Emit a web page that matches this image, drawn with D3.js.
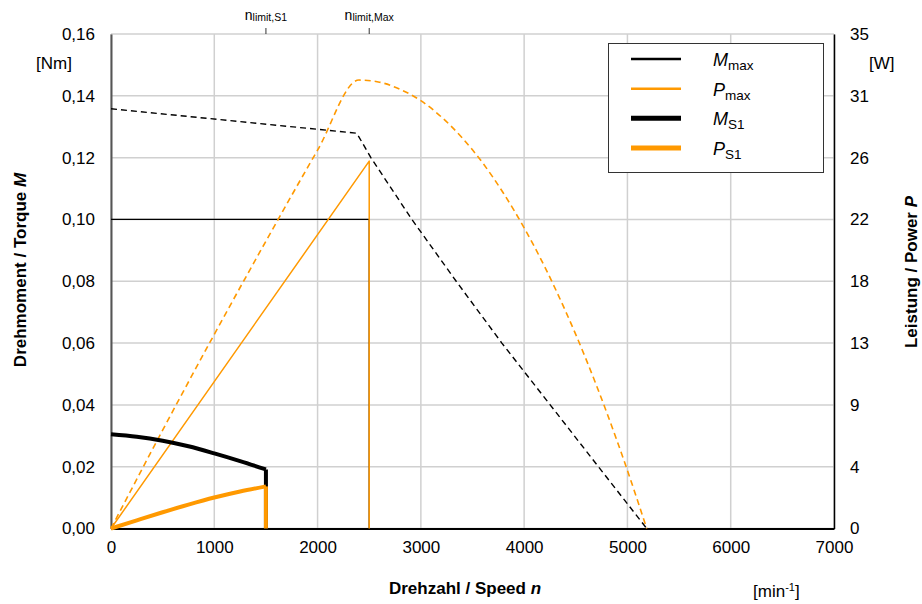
<!DOCTYPE html>
<html>
<head>
<meta charset="utf-8">
<script src="https://cdn.jsdelivr.net/npm/d3@7"></script>
<style>
  body { margin: 0; background: #fff; }
  text { font-family: "Liberation Sans", Arial, sans-serif; fill: #000; }
</style>
</head>
<body>
<div id="chart"></div>
<script>
// axis ticks
var speedTicks = [0, 1000, 2000, 3000, 4000, 5000, 6000, 7000];
var torqueTicks = [0, 0.02, 0.04, 0.06, 0.08, 0.10, 0.12, 0.14, 0.16];
var powerTicks = [0, 4.375, 8.75, 13.125, 17.5, 21.875, 26.25, 30.625, 35];

// top markers
var limitNames = ["limit,S1", "limit,Max"];
var limitSpeeds = [1500, 2500];

// M max (thin solid) and P max (thin solid)
var mMaxN = [0, 2500, 2500];
var mMaxM = [0.10, 0.10, 0];
var pMaxN = [0, 2500, 2500];
var pMaxP = [0, 26.0, 0];

// dashed characteristic curves
var mCurveN = [0, 2380, 2516, 2913, 3342, 3784, 4252, 4719, 5187];
var mCurveM = [0.1358, 0.1279, 0.12, 0.10, 0.08, 0.06, 0.04, 0.02, 0];
var pCurveN = [0, 500, 1000, 1500, 2000, 2400, 2600, 2800, 3000, 3200, 3400, 3600, 3800, 4000, 4200, 4400, 4600, 4800, 5000, 5187];
var pCurveP = [0, 6.96, 13.74, 20.34, 26.78, 31.74, 31.59, 31.08, 30.28, 29.12, 27.65, 25.86, 23.73, 21.28, 18.51, 15.40, 11.97, 8.20, 4.11, 0];

// S1 (thick)
var mS1N = [0, 250, 500, 750, 1000, 1250, 1500];
var mS1M = [0.0305, 0.0297, 0.0284, 0.0266, 0.0243, 0.0218, 0.0191];
var pS1N = [0, 250, 500, 750, 1000, 1250, 1500];
var pS1P = [0, 0.58, 1.15, 1.69, 2.19, 2.62, 2.98];

var legendNames = [["M", "max"], ["P", "max"], ["M", "S1"], ["P", "S1"]];

var width = 922, height = 604;
var plotLeft = 111, plotRight = 834, plotTop = 34, plotBottom = 528.5;
var black = "#000", orange = "#ff9900", grid = "#d0d0d0";

var svg = d3.select("#chart").append("svg")
    .attr("width", width).attr("height", height);

var x = d3.scaleLinear().domain([0, 7000]).range([plotLeft, plotRight]);
var y = d3.scaleLinear().domain([0, 0.16]).range([plotBottom, plotTop]);
var y2 = d3.scaleLinear().domain([0, 35]).range([plotBottom, plotTop]);

// grid
svg.append("g").selectAll("line").data(speedTicks).enter().append("line")
    .attr("x1", d => x(d)).attr("x2", d => x(d))
    .attr("y1", plotTop).attr("y2", plotBottom)
    .attr("stroke", grid).attr("stroke-width", 1.5);
svg.append("g").selectAll("line").data(torqueTicks).enter().append("line")
    .attr("x1", plotLeft).attr("x2", plotRight)
    .attr("y1", d => y(d)).attr("y2", d => y(d))
    .attr("stroke", grid).attr("stroke-width", 1.5);

// axes
var fmt = d3.format(".2f");
var axL = svg.append("g").attr("transform", "translate(" + plotLeft + ",0)")
    .call(d3.axisLeft(y).tickValues(torqueTicks).tickSize(0).tickPadding(16)
      .tickFormat(d => fmt(d).replace(".", ",")));
var axR = svg.append("g").attr("transform", "translate(" + plotRight + ",0)")
    .call(d3.axisRight(y2).tickValues(powerTicks).tickSize(0).tickPadding(16)
      .tickFormat(d => Math.round(d)));
var axB = svg.append("g").attr("transform", "translate(0," + plotBottom + ")")
    .call(d3.axisBottom(x).tickValues(speedTicks).tickSize(0).tickPadding(12)
      .tickFormat(d3.format("d")));
[axL, axR, axB].forEach(function(a) {
  a.selectAll("text").style("font-size", "17px").attr("fill", "#000")
    .style("font-family", "'Liberation Sans', Arial, sans-serif");
});
axL.select(".domain").attr("stroke", "#555").attr("stroke-width", 2);
axR.select(".domain").attr("stroke", "#000").attr("stroke-width", 1.5);
axB.select(".domain").attr("stroke", "#000").attr("stroke-width", 2);

// series
function pts(a, b) { return a.map((d, i) => [d, b[i]]); }
function drop(a, b) { var n = a.length - 1; return [[a[n], b[n]], [a[n], 0]]; }

var lineM = d3.line().x(d => x(d[0])).y(d => y(d[1]));
var lineP = d3.line().x(d => x(d[0])).y(d => y2(d[1]));
var smoothM = d3.line().x(d => x(d[0])).y(d => y(d[1])).curve(d3.curveMonotoneX);
var smoothP = d3.line().x(d => x(d[0])).y(d => y2(d[1])).curve(d3.curveMonotoneX);

var plot = svg.append("g").attr("fill", "none").attr("stroke-linejoin", "round");

plot.append("path").attr("d", lineM(pts(mMaxN, mMaxM)))
    .attr("stroke", black).attr("stroke-width", 1.3);
plot.append("path").attr("d", lineP(pts(pMaxN, pMaxP)))
    .attr("stroke", orange).attr("stroke-width", 1.5);
plot.append("path").attr("d", lineM(pts(mCurveN, mCurveM)))
    .attr("stroke", black).attr("stroke-width", 1.4).attr("stroke-dasharray", "6,4");
plot.append("path").attr("d", smoothP(pts(pCurveN, pCurveP)))
    .attr("stroke", orange).attr("stroke-width", 1.6).attr("stroke-dasharray", "6,4");

plot.append("path").attr("d", smoothM(pts(mS1N, mS1M)))
    .attr("stroke", black).attr("stroke-width", 4);
plot.append("path").attr("d", lineM(drop(mS1N, mS1M)))
    .attr("stroke", black).attr("stroke-width", 4);
plot.append("path").attr("d", smoothP(pts(pS1N, pS1P)))
    .attr("stroke", orange).attr("stroke-width", 4);
plot.append("path").attr("d", lineP(drop(pS1N, pS1P)))
    .attr("stroke", orange).attr("stroke-width", 4);

// top markers
var mk = svg.append("g").selectAll("g").data(limitSpeeds).enter().append("g")
    .attr("transform", d => "translate(" + x(d) + ",0)");
mk.append("line").attr("y1", 28).attr("y2", 34)
    .attr("stroke", "#333").attr("stroke-width", 1);
var mt = mk.append("text").attr("y", 20).attr("text-anchor", "middle");
mt.append("tspan").style("font-size", "14px").text("n");
mt.append("tspan").style("font-size", "10.5px").attr("dy", 1).text((d, i) => limitNames[i]);

// units
svg.append("text").attr("x", 72).attr("y", 69).attr("text-anchor", "end")
    .style("font-size", "17px").text("[Nm]");
svg.append("text").attr("x", 869).attr("y", 69)
    .style("font-size", "17px").text("[W]");
var u = svg.append("text").attr("x", 753).attr("y", 597).style("font-size", "17px");
u.append("tspan").text("[min");
u.append("tspan").attr("dy", -6).style("font-size", "11px").text("-1");
u.append("tspan").attr("dy", 6).text("]");

// titles
var tx = svg.append("text").attr("x", 465).attr("y", 594).attr("text-anchor", "middle")
    .style("font-size", "17px").style("font-weight", "bold");
tx.append("tspan").text("Drehzahl / Speed ");
tx.append("tspan").style("font-style", "italic").text("n");
var tl = svg.append("text").attr("transform", "translate(26,270) rotate(-90)")
    .attr("text-anchor", "middle").style("font-size", "17px").style("font-weight", "bold");
tl.append("tspan").text("Drehmoment / Torque ");
tl.append("tspan").style("font-style", "italic").text("M");
var tr = svg.append("text").attr("transform", "translate(917,272) rotate(-90)")
    .attr("text-anchor", "middle").style("font-size", "17px").style("font-weight", "bold");
tr.append("tspan").text("Leistung / Power ");
tr.append("tspan").style("font-style", "italic").text("P");

// legend
var lg = svg.append("g");
lg.append("rect").attr("x", 608.5).attr("y", 43.5).attr("width", 215).attr("height", 129)
    .attr("fill", "#fff").attr("stroke", "#333").attr("stroke-width", 1);
var rowY = d3.scalePoint().domain(d3.range(4)).range([59, 148]);
var rows = lg.selectAll("g.row").data(legendNames).enter().append("g")
    .attr("transform", (d, i) => "translate(0," + rowY(i) + ")");
rows.append("line").attr("x1", 631).attr("x2", 681)
    .attr("stroke", (d, i) => i % 2 ? orange : black)
    .attr("stroke-width", (d, i) => i < 2 ? 2.5 : 5);
var lt = rows.append("text").attr("x", 713).attr("y", 7);
lt.append("tspan").style("font-size", "18px").style("font-style", "italic").text(d => d[0]);
lt.append("tspan").style("font-size", "13.5px").attr("dy", 4).text(d => d[1]);
</script>
</body>
</html>
